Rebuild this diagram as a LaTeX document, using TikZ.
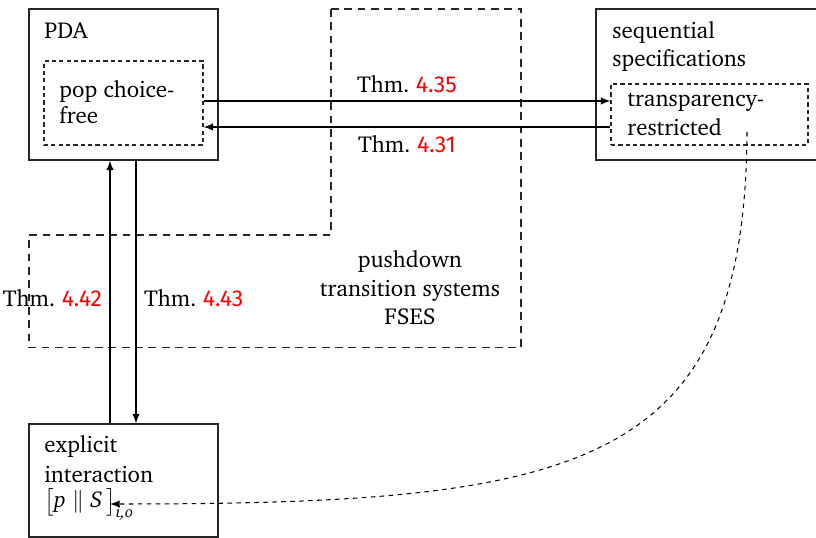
\documentclass[tikz,border=0pt]{standalone}
\usepackage{fontspec}
\newfontfamily\numfont{Fira Sans}
\usepackage[T1]{fontenc}
\usepackage{charter}
\usepackage{amsmath}
\usetikzlibrary{fit}
\tikzset{
  solidbox/.style={draw=black!85, line width=0.45pt, inner sep=0pt, fit=#1},
  innerbox/.style={draw=black!85, line width=0.45pt, inner sep=0pt, dash pattern=on 1.8pt off 1.4pt, fit=#1},
  bigdash/.style={draw=black!85, line width=0.45pt, dash pattern=on 3.4pt off 2.4pt},
  txt/.style={anchor=base west, inner sep=0pt},
  arr/.style={-latex, line width=0.45pt},
  curvearr/.style={-latex, line width=0.45pt, dash pattern=on 2pt off 1.9pt},
  thm/.style={inner sep=3.3pt}
}
\newcommand{\thmref}[1]{Thm.~\textcolor{red}{\numfont #1}}
\begin{document}
\begin{tikzpicture}[x=0.435pt,y=-0.435pt,font=\fontsize{10}{12}\selectfont]
\clip (0,0) rectangle (816,538);
\useasboundingbox (0,0) rectangle (816,538);
% corners
\coordinate (pda1) at (29,9);   \coordinate (pda2) at (218,160);
\coordinate (pcf1) at (44,61);  \coordinate (pcf2) at (203,145);
\coordinate (seq1) at (596,9);  \coordinate (seq2) at (840,160);
\coordinate (tr1) at (611,84);  \coordinate (tr2) at (808,145);
\coordinate (ei1) at (29,424);  \coordinate (ei2) at (218,537);
% pushdown region
\draw[bigdash] (331,9) -- (521,9) -- (521,347.5) -- (29,347.5) -- (29,235) -- (331,235) -- cycle;
\node[txt, anchor=base] (pd1) at (410,268) {pushdown};
\node[txt, anchor=base] (pd2) at (410,296.5) {transition systems};
\node[txt, anchor=base] (pd3) at (410,325) {FSES};
% boxes
\node[solidbox=(pda1)(pda2)] (pda) {};
\node[innerbox=(pcf1)(pcf2)] (pcf) {};
\node[solidbox=(seq1)(seq2)] (seq) {};
\node[innerbox=(tr1)(tr2)] (tr) {};
\node[solidbox=(ei1)(ei2)] (ei) {};
% texts
\node[txt] (pdat) at (44,39) {PDA};
\node[txt] (pcft1) at (59,97.5) {pop choice-};
\node[txt] (pcft2) at (59,123.5) {free};
\node[txt] (seqt1) at (612,39) {sequential};
\node[txt] (seqt2) at (612,66.5) {specifications};
\node[txt] (trt1) at (627,107) {transparency-};
\node[txt] (trt2) at (627,136) {restricted};
\node[txt] (eit1) at (44,453) {explicit};
\node[txt] (eit2) at (44,482.5) {interaction};
\node[txt] (eit3) at (44,508) {\smash{$\bigl[\textit{p}\parallel\textit{S}\,\bigr]_{\text{\itshape i,o}}$}};
% horizontal arrows
\coordinate (h1) at (0,101);
\coordinate (h2) at (0,127);
\draw[arr] (pcf.east |- h1) -- node[thm, above] (l435) {\thmref{4.35}} (tr.west |- h1);
\draw[arr] (tr.west |- h2) -- node[thm, below] (l431) {\thmref{4.31}} (pcf.east |- h2);
% vertical arrows
\coordinate (v1) at (110,0);
\coordinate (v2) at (136,0);
\draw[arr] (ei.north -| v1) -- node[thm, left, pos=0.475] (l442) {\thmref{4.42}} (pda.south -| v1);
\draw[arr] (pda.south -| v2) -- node[thm, right, pos=0.525] (l443) {\thmref{4.43}} (ei.north -| v2);
% dashed curve
\coordinate (cs) at (747,132);
\coordinate (ce) at (110,504);
\draw[curvearr] (cs) .. controls (745,470) and (580,504) .. (ce);
\end{tikzpicture}
\end{document}
